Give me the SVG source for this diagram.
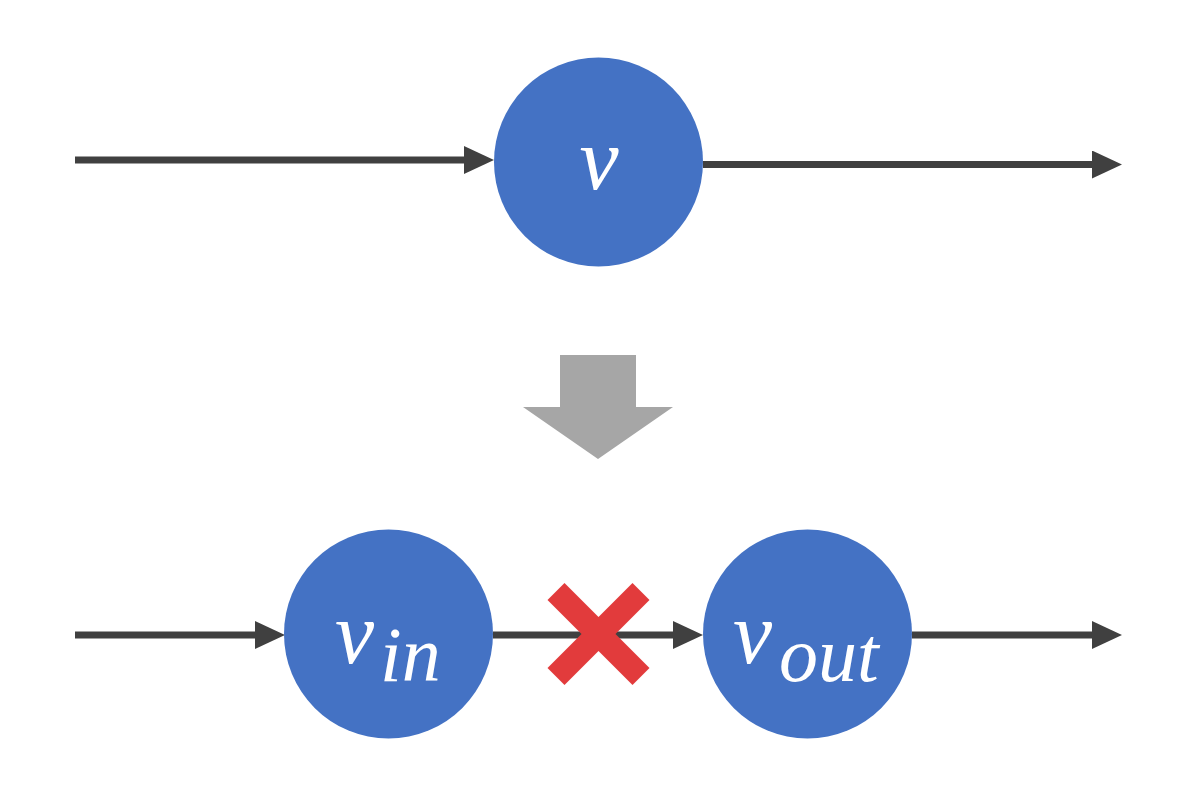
<svg xmlns="http://www.w3.org/2000/svg" width="1200" height="796" viewBox="0 0 1200 796">
<style>
.node{fill:#4472C4}
.edge{stroke:#404040;stroke-width:7;fill:none}
.lbl{font-family:"Liberation Serif","DejaVu Serif",serif;font-style:italic;fill:#FFFFFF}
</style>
<defs>
<marker id="ah" markerUnits="userSpaceOnUse" markerWidth="30" markerHeight="28" refX="10" refY="14" orient="auto">
<path d="M0,0 L30,14 L0,28 Z" fill="#404040"/>
</marker>
</defs>
<rect width="1200" height="796" fill="#FFFFFF"/>
<g id="connectors">
<line class="edge" x1="75" y1="160" x2="474" y2="160" marker-end="url(#ah)"/>
<line class="edge" x1="703" y1="164.5" x2="1102" y2="164.5" marker-end="url(#ah)"/>
<line class="edge" x1="75" y1="635" x2="265" y2="635" marker-end="url(#ah)"/>
<line class="edge" x1="493" y1="635" x2="683" y2="635" marker-end="url(#ah)"/>
<line class="edge" x1="912" y1="635" x2="1102" y2="635" marker-end="url(#ah)"/>
</g>
<g id="node-v">
<circle class="node" cx="598.5" cy="162" r="104.5"/>
<text class="lbl" x="599" y="189" font-size="88" text-anchor="middle">v</text>
</g>
<g id="transform-arrow">
<polygon points="560,355 636,355 636,407 673,407 598,459 523,407 560,407" fill="#A6A6A6"/>
</g>
<g id="node-vin">
<circle class="node" cx="388.5" cy="634" r="104.5"/>
<text class="lbl" x="335" y="663" font-size="88">v</text>
<text class="lbl" x="380" y="681" font-size="78">in</text>
</g>
<g id="node-vout">
<circle class="node" cx="807.5" cy="634" r="104.5"/>
<text class="lbl" x="733" y="663" font-size="88">v</text>
<text class="lbl" x="779" y="681" font-size="78">out</text>
</g>
<g id="cross">
<polygon transform="translate(598.5,634)" points="-51,-34 -34,-51 0,-17 34,-51 51,-34 17,0 51,34 34,51 0,17 -34,51 -51,34 -17,0" fill="#E23B3C"/>
</g>
</svg>
